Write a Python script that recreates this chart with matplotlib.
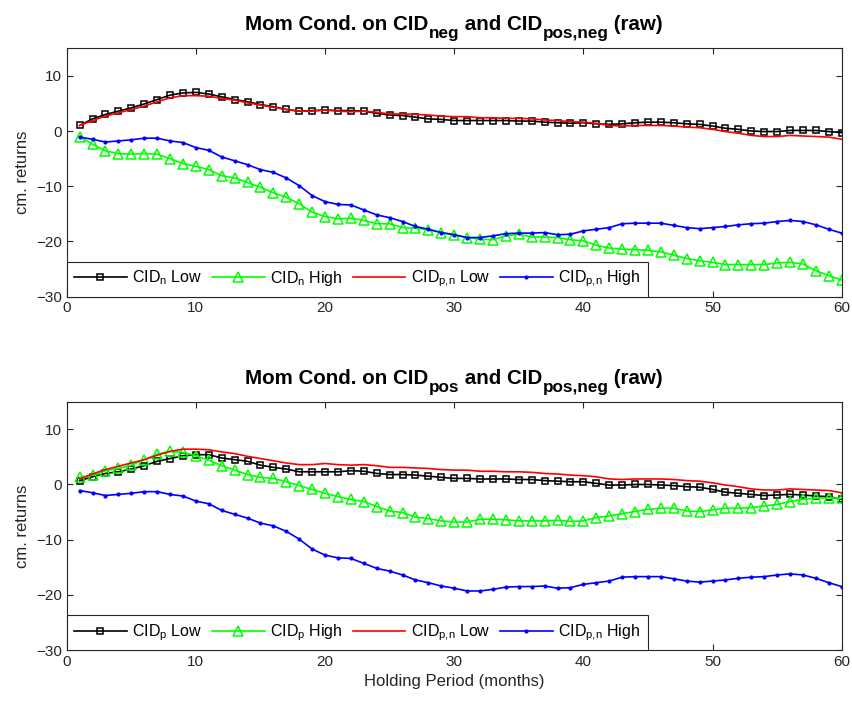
import numpy as np
import matplotlib
matplotlib.use("Agg")
import matplotlib.pyplot as plt

plt.rcParams['font.family'] = ['Liberation Sans', 'DejaVu Sans']
plt.rcParams['mathtext.fontset'] = 'custom'
plt.rcParams['mathtext.rm'] = 'Liberation Sans'
plt.rcParams['mathtext.it'] = 'Liberation Sans'
plt.rcParams['mathtext.bf'] = 'Liberation Sans:bold'

months = np.arange(1, 61)

# top panel: conditioned on CID_neg
neg_low = [1.0, 2.2, 3.0, 3.6, 4.2, 4.9, 5.7, 6.5, 6.9, 7.0, 6.7, 6.2, 5.7, 5.3, 4.8, 4.4, 3.9, 3.6, 3.7,
           3.8, 3.7, 3.7, 3.6, 3.2, 2.9, 2.8, 2.5, 2.2, 2.1, 1.9, 1.9, 1.9, 1.9, 1.9, 1.8, 1.8, 1.6, 1.5,
           1.4, 1.5, 1.3, 1.2, 1.3, 1.5, 1.6, 1.6, 1.5, 1.3, 1.2, 0.9, 0.5, 0.3, 0.0, -0.1, -0.1, 0.1,
           0.1, 0.1, -0.1, -0.3]
neg_high = [-1.0, -2.4, -3.6, -4.1, -4.2, -4.1, -4.2, -5.0, -5.9, -6.4, -7.0, -8.1, -8.5, -9.3, -10.2,
            -11.2, -12.0, -13.2, -14.7,
            -15.5, -15.9, -15.8, -16.2, -16.8, -16.8, -17.5, -17.6, -17.9, -18.4, -18.8, -19.3, -19.6,
            -19.7, -19.0, -18.7, -19.2, -19.2, -19.3,
            -19.7, -19.9, -20.7, -21.2, -21.4, -21.5, -21.6, -21.9, -22.5, -23.1, -23.5, -23.8, -24.2,
            -24.2, -24.2, -24.2, -23.9, -23.8, -24.1, -25.3, -26.2, -27.0]

# bottom panel: conditioned on CID_pos
pos_low = [0.7, 1.4, 2.0, 2.3, 2.8, 3.4, 4.2, 4.7, 5.2, 5.4, 5.4, 4.8, 4.5, 4.2, 3.5, 3.1, 2.8, 2.3, 2.3,
           2.3, 2.3, 2.5, 2.4, 2.0, 1.8, 1.8, 1.7, 1.5, 1.3, 1.1, 1.1, 1.0, 1.0, 1.0, 0.9, 0.9, 0.7, 0.6,
           0.5, 0.5, 0.2, -0.1, -0.1, 0.0, 0.0, -0.1, -0.2, -0.4, -0.5, -0.9, -1.4, -1.6, -1.8, -2.0,
           -1.9, -1.8, -1.9, -2.1, -2.2, -2.7]
pos_high = [1.3, 1.7, 2.5, 2.9, 3.5, 4.5, 5.5, 6.0, 5.8, 5.2, 4.4, 3.4, 2.6, 1.8, 1.3, 1.1, 0.5, -0.2, -0.9,
            -1.6, -2.2, -2.7, -3.1, -4.0, -4.8, -5.1, -5.9, -6.2, -6.6, -6.8, -6.8, -6.3, -6.3, -6.4,
            -6.6, -6.6, -6.6, -6.5,
            -6.7, -6.6, -6.0, -5.7, -5.3, -4.9, -4.5, -4.3, -4.3, -4.8, -4.9, -4.6, -4.3, -4.3, -4.2,
            -3.9, -3.6, -3.1, -2.7, -2.5, -2.4, -2.5]

# shared: conditioned on CID_pos,neg
pn_low = [1.0, 1.9, 2.7, 3.3, 3.9, 4.5, 5.3, 6.0, 6.4, 6.4, 6.3, 5.9, 5.6, 5.1, 4.7, 4.3, 3.9, 3.6, 3.6,
          3.8, 3.6, 3.5, 3.6, 3.4, 3.1, 3.1, 3.0, 2.9, 2.7, 2.6, 2.6, 2.4, 2.4, 2.3, 2.3, 2.2, 2.0, 1.9,
          1.7, 1.6, 1.4, 1.0, 0.9, 1.0, 1.0, 1.0, 0.9, 0.7, 0.6, 0.3, -0.1, -0.4, -0.8, -1.0, -1.0,
          -0.8, -0.9, -1.0, -1.1, -1.5]
pn_high = [-1.1, -1.5, -2.0, -1.8, -1.6, -1.3, -1.3, -1.8, -2.1, -3.0, -3.5, -4.7, -5.4, -6.1, -7.0,
           -7.5, -8.5, -9.9, -11.7,
           -12.8, -13.3, -13.4, -14.3, -15.2, -15.7, -16.4, -17.3, -17.8, -18.4, -18.8, -19.3, -19.3,
           -19.0, -18.6, -18.5, -18.5, -18.4, -18.8,
           -18.7, -18.1, -17.8, -17.5, -16.8, -16.7, -16.7, -16.7, -17.1, -17.5, -17.7, -17.5, -17.3,
           -17.0, -16.8, -16.7, -16.4, -16.2, -16.4, -17.0, -17.8, -18.5]

titles = [
    [('Mom Cond. on CID', False), ('neg', True), (' and CID', False), ('pos,neg', True), (' (raw)', False)],
    [('Mom Cond. on CID', False), ('pos', True), (' and CID', False), ('pos,neg', True), (' (raw)', False)],
]
panels = [(neg_low, neg_high, 'n'), (pos_low, pos_high, 'p')]

fig = plt.figure(figsize=(8.52, 7.07), dpi=100)
renderer = fig.canvas.get_renderer()
positions = [[0.0783, 0.5805, 0.9096, 0.3513], [0.0783, 0.0806, 0.9096, 0.3512]]
axis_grey = '#262626'


def draw_title(ax, parts, main_size=14.8, sub_size=12.3, sub_drop=8):
    # MATLAB-like title: big bold subscripts, set piece by piece
    pos = ax.get_position()
    xc = (pos.x0 + pos.x1) / 2 * fig.bbox.width
    yb = pos.y1 * fig.bbox.height + 18
    texts = []
    for s, sub in parts:
        t = fig.text(0, 0, s, fontsize=sub_size if sub else main_size, fontweight='bold',
                     ha='left', va='baseline')
        texts.append((t, sub))
    widths = [t.get_window_extent(renderer).width for t, _ in texts]
    x = xc - sum(widths) / 2
    for (t, sub), w in zip(texts, widths):
        t.set_position((x / fig.bbox.width, (yb - (sub_drop if sub else 0)) / fig.bbox.height))
        x += w


for pos, (low, high, tag), title in zip(positions, panels, titles):
    ax = fig.add_axes(pos)
    ax.plot(months, low, color='k', lw=1.2, marker='s', ms=4.5, mfc='none', mew=1.1,
            label=f'CID$_{tag}$ Low')
    ax.plot(months, high, color=(0, 1, 0), lw=1.2, marker='^', ms=7, mfc='none', mew=1.1,
            label=f'CID$_{tag}$ High')
    ax.plot(months, pn_low, color=(1, 0, 0), lw=1.2, label=r'CID$_{p{,}n}$ Low')
    ax.plot(months, pn_high, color=(0, 0, 1), lw=1.2, marker='.', ms=4,
            label=r'CID$_{p{,}n}$ High')

    ax.set_xlim(0, 60)
    ax.set_ylim(-30, 15)
    ax.set_xticks(range(0, 61, 10))
    ax.set_yticks([-30, -20, -10, 0, 10])
    ax.tick_params(direction='in', top=True, right=True, length=4, labelsize=11,
                   color=axis_grey, labelcolor=axis_grey)
    for sp in ax.spines.values():
        sp.set_color(axis_grey)
        sp.set_linewidth(0.8)
    ax.set_ylabel('cm. returns', fontsize=12, color=axis_grey, labelpad=4)
    draw_title(ax, title)

    leg = ax.legend(loc='lower left', ncol=4, fontsize=11.5, handlelength=3.3,
                    handletextpad=0.35, columnspacing=0.6, borderaxespad=0.0,
                    borderpad=0.45, fancybox=False, framealpha=1)
    leg.get_frame().set_edgecolor(axis_grey)
    leg.get_frame().set_linewidth(0.8)

ax.set_xlabel('Holding Period (months)', fontsize=12, color=axis_grey)

fig.savefig('out.png', dpi=100)
